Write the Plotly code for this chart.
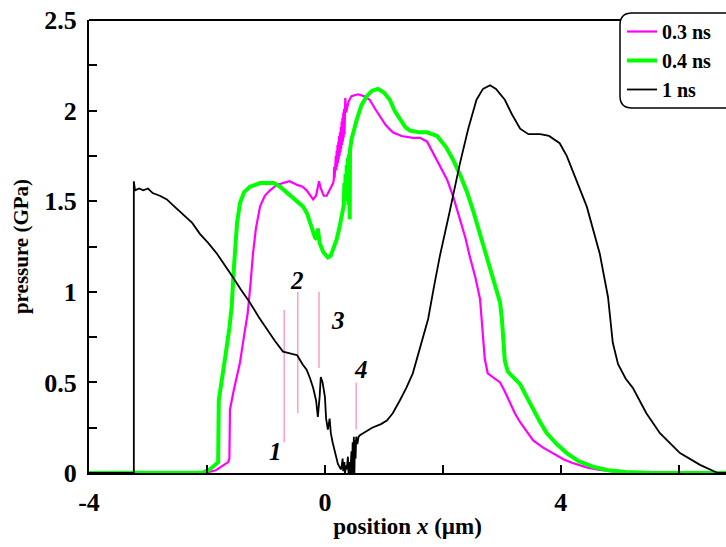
import plotly.graph_objects as go

# ---------------- data ----------------
t03_x = [-4.0, -2.2, -2.0, -1.85, -1.72, -1.64, -1.62, -1.61, -1.55, -1.44, -1.36, -1.31, -1.26, -1.22,
         -1.17, -1.10, -1.02, -0.93, -0.82, -0.71, -0.60, -0.47, -0.38, -0.31, -0.25, -0.20, -0.15,
         -0.12, -0.10, -0.07, -0.02, 0.03, 0.08, 0.14,
         0.150, 0.157, 0.164, 0.171, 0.178, 0.185, 0.192, 0.199, 0.206, 0.213, 0.220, 0.227, 0.234,
         0.241, 0.248, 0.255, 0.262, 0.269, 0.276, 0.283, 0.290, 0.297, 0.304, 0.311, 0.318, 0.325,
         0.332, 0.339, 0.345, 0.36, 0.40, 0.45, 0.56, 0.66, 0.76, 0.85, 0.93, 1.03, 1.15,
         1.30, 1.49, 1.61, 1.73, 1.83, 1.95, 2.07, 2.18, 2.29, 2.38, 2.46, 2.55, 2.63, 2.66, 2.68,
         2.71, 2.76, 2.85, 2.97, 3.05, 3.14, 3.22, 3.31, 3.42, 3.53, 3.70, 3.87, 4.05, 4.20, 4.45,
         4.66, 4.90, 5.10, 5.50, 6.80]
t03_y = [0.0, 0.0, 0.003, 0.015, 0.04, 0.06, 0.08, 0.35, 0.45, 0.61, 0.78, 0.88, 1.05, 1.21,
         1.35, 1.47, 1.53, 1.56, 1.59, 1.60, 1.61, 1.59, 1.58, 1.56, 1.53, 1.51, 1.53,
         1.59, 1.61, 1.57, 1.53, 1.53, 1.56, 1.60,
         1.62, 1.69, 1.63, 1.72, 1.65, 1.75, 1.67, 1.78, 1.69, 1.81, 1.71, 1.83, 1.73,
         1.86, 1.75, 1.88, 1.77, 1.91, 1.79, 1.94, 1.81, 1.96, 1.83, 1.99, 1.85, 2.01,
         1.87, 2.04, 2.07, 1.99, 2.05, 2.08, 2.09, 2.08, 2.06, 2.01, 1.97, 1.92, 1.88,
         1.86, 1.85, 1.85, 1.83, 1.77, 1.70, 1.62, 1.52, 1.40, 1.30, 1.19, 1.08, 0.96, 0.85, 0.75,
         0.63, 0.55, 0.53, 0.50, 0.45, 0.39, 0.33, 0.28, 0.23, 0.18, 0.14, 0.11, 0.075, 0.055, 0.03,
         0.017, 0.007, 0.002, 0.0, 0.0]

t04_x = [-4.0, -2.3, -2.07, -1.95, -1.85, -1.81, -1.80, -1.75, -1.69, -1.62, -1.58, -1.55, -1.53,
         -1.49, -1.44, -1.37, -1.27, -1.10, -0.98, -0.87, -0.76, -0.65, -0.54, -0.45, -0.37, -0.30,
         -0.25, -0.20, -0.17, -0.14, -0.12, -0.09, -0.03, 0.05, 0.10, 0.15, 0.20, 0.25, 0.31,
         0.32, 0.33, 0.34, 0.35, 0.36, 0.37, 0.38, 0.39, 0.40, 0.41, 0.42, 0.425, 0.45, 0.50, 0.54,
         0.62, 0.71, 0.80, 0.90, 1.00, 1.10, 1.18, 1.27, 1.36, 1.44, 1.60, 1.73, 1.90, 2.05, 2.17,
         2.30, 2.41, 2.52, 2.63, 2.72, 2.80, 2.90, 2.97, 3.00, 3.02, 3.05, 3.10, 3.20, 3.31, 3.42,
         3.53, 3.65, 3.76, 3.93, 4.10, 4.30, 4.54, 4.80, 5.10, 5.50, 6.80]
t04_y = [0.0, 0.0, 0.003, 0.02, 0.045, 0.06, 0.40, 0.50, 0.64, 0.80, 0.92, 1.10, 1.21,
         1.38, 1.49, 1.55, 1.58, 1.60, 1.60, 1.60, 1.58, 1.55, 1.52, 1.49, 1.47, 1.43,
         1.37, 1.33, 1.30, 1.29, 1.35, 1.27, 1.22, 1.19, 1.20, 1.24, 1.29, 1.36, 1.45,
         1.48, 1.60, 1.50, 1.65, 1.52, 1.70, 1.55, 1.74, 1.48, 1.76, 1.40, 1.78, 1.84, 1.91, 1.95,
         2.03, 2.08, 2.11, 2.12, 2.10, 2.06, 2.00, 1.95, 1.91, 1.89, 1.88, 1.88, 1.86, 1.80, 1.73,
         1.64, 1.55, 1.44, 1.32, 1.22, 1.12, 1.02, 0.94, 0.85, 0.72, 0.62, 0.56, 0.53, 0.49, 0.42,
         0.35, 0.28, 0.22, 0.16, 0.11, 0.065, 0.035, 0.015, 0.005, 0.001, 0.0]

t1_x = [-4.0, -3.24, -3.24, -3.22, -3.15, -3.08, -3.00, -2.92, -2.80, -2.68, -2.55, -2.41, -2.25,
        -2.12, -1.98, -1.83, -1.70, -1.56, -1.42, -1.27, -1.12, -0.98, -0.85, -0.71, -0.60, -0.47,
        -0.38, -0.31, -0.25, -0.20, -0.15, -0.12, -0.09, -0.07, -0.04, 0.00, 0.02, 0.05, 0.08,
        0.10, 0.13, 0.17, 0.22, 0.27,
        0.28, 0.30, 0.31, 0.33, 0.34, 0.36, 0.37, 0.39, 0.40, 0.42, 0.43, 0.45, 0.46, 0.47, 0.48,
        0.49, 0.50, 0.51, 0.52, 0.53, 0.55, 0.57, 0.60, 0.80, 0.95, 1.05, 1.15, 1.27, 1.38, 1.49,
        1.62, 1.75, 1.85, 1.95, 2.12, 2.29, 2.43, 2.57, 2.68, 2.80, 2.90, 3.05, 3.17, 3.31, 3.45,
        3.65, 3.80, 3.98, 4.10, 4.20, 4.44, 4.66, 4.80, 4.88, 4.97, 5.10, 5.22, 5.45, 5.68, 6.02,
        6.36, 6.66, 6.80]
t1_y = [0.0, 0.0, 1.61, 1.56, 1.57, 1.56, 1.57, 1.545, 1.53, 1.51, 1.47, 1.43, 1.38,
        1.32, 1.27, 1.21, 1.15, 1.08, 1.01, 0.94, 0.86, 0.79, 0.73, 0.67, 0.66, 0.65,
        0.60, 0.57, 0.52, 0.47, 0.40, 0.31, 0.42, 0.53, 0.50, 0.42, 0.30, 0.24, 0.30,
        0.22, 0.17, 0.11, 0.05, 0.02,
        0.03, 0.08, 0.01, 0.06, 0.0, 0.04, 0.02, 0.09, 0.0, 0.06, 0.0, 0.12, 0.0, 0.17, 0.0,
        0.20, 0.0, 0.18, 0.08, 0.20, 0.16, 0.20, 0.21, 0.25, 0.27, 0.29, 0.33, 0.40, 0.47, 0.55,
        0.70, 0.85, 1.03, 1.20, 1.45, 1.71, 1.90, 2.06, 2.12, 2.14, 2.12, 2.06, 1.98, 1.90, 1.87,
        1.87, 1.86, 1.82, 1.75, 1.67, 1.47, 1.21, 0.97, 0.72, 0.60, 0.52, 0.47, 0.33, 0.22, 0.11,
        0.045, 0.0, 0.0]

series_names = ["0.3 ns", "0.4 ns", "1 ns"]
series_colors = ["#ff00ff", "#00ff00", "#000000"]
series_widths = [2.2, 4.0, 1.8]

x_tick_vals = [-4, -2, 0, 2, 4, 6]
x_tick_text = ["-4", "", "0", "", "4", ""]
y_tick_vals = [0, 0.25, 0.5, 0.75, 1, 1.25, 1.5, 1.75, 2, 2.25, 2.5]
y_tick_text = ["0", "", "0.5", "", "1", "", "1.5", "", "2", "", "2.5"]

marker_x = [-0.69, -0.46, -0.10, 0.53]
marker_y0 = [0.17, 0.33, 0.58, 0.24]
marker_y1 = [0.90, 1.00, 1.00, 0.50]
marker_labels = ["1", "2", "3", "4"]
label_x = [-0.84, -0.47, 0.23, 0.62]
label_y = [0.12, 1.06, 0.84, 0.57]

# ---------------- figure ----------------
W, H = 726, 547
L, R, T, B = 89, 0, 20, 74
FONT = "Liberation Serif, Times New Roman, serif"

def px_to_paper(px, py):
    return (px - L) / (W - L - R), (H - B - py) / (H - B - T)

fig = go.Figure()
for xs, ys, n, c, w in zip([t03_x, t04_x, t1_x], [t03_y, t04_y, t1_y],
                           series_names, series_colors, series_widths):
    fig.add_trace(go.Scatter(x=xs, y=ys, mode="lines", name=n,
                             line=dict(color=c, width=w)))

shapes = []
for mx, a, b in zip(marker_x, marker_y0, marker_y1):
    shapes.append(dict(type="line", xref="x", yref="y", x0=mx, x1=mx, y0=a, y1=b,
                       line=dict(color="#ff9ec8", width=1.5), layer="below"))
shapes.append(dict(type="line", xref="paper", yref="paper", x0=0, x1=1, y0=1, y1=1,
                   line=dict(color="black", width=2)))
bx0, by0 = px_to_paper(620, 108)
bx1, by1 = px_to_paper(740, 13)
rx = 12 / (W - L - R)
ry = 12 / (H - B - T)
path = (f"M {bx0+rx},{by1} L {bx1},{by1} L {bx1},{by0} L {bx0+rx},{by0} "
        f"Q {bx0},{by0} {bx0},{by0+ry} L {bx0},{by1-ry} Q {bx0},{by1} {bx0+rx},{by1} Z")
shapes.append(dict(type="path", xref="paper", yref="paper", path=path,
                   line=dict(color="black", width=1.5), fillcolor="white"))

annotations = []
for lx, ly, t in zip(label_x, label_y, marker_labels):
    annotations.append(dict(x=lx, y=ly, xref="x", yref="y", text=f"<i>{t}</i>",
                            showarrow=False,
                            font=dict(family=FONT, size=25, color="black", weight="bold")))

lgx, lgy = px_to_paper(622, 12)
fig.update_layout(
    width=W, height=H,
    margin=dict(l=L, r=R, t=T, b=B),
    paper_bgcolor="white", plot_bgcolor="white",
    font=dict(family=FONT, color="black"),
    shapes=shapes, annotations=annotations,
    showlegend=True,
    legend=dict(x=lgx, y=lgy, xanchor="left", yanchor="top",
                bgcolor="rgba(0,0,0,0)", borderwidth=0,
                font=dict(family=FONT, size=20, color="black", weight="bold"),
                itemwidth=30, tracegroupgap=0),
    xaxis=dict(range=[-4, 6.8], tickvals=x_tick_vals, ticktext=x_tick_text,
               ticks="inside", ticklen=8, tickwidth=1.5, tickcolor="black",
               showline=True, linecolor="black", linewidth=2, showgrid=False, zeroline=False,
               tickfont=dict(family=FONT, size=26, color="black", weight="bold"),
               ticklabelstandoff=5,
               title=dict(text="position <i>x</i> (µm)", standoff=2,
                          font=dict(family=FONT, size=23, color="black", weight="bold"))),
    yaxis=dict(range=[0, 2.5], tickvals=y_tick_vals, ticktext=y_tick_text,
               ticks="inside", ticklen=8, tickwidth=1.5, tickcolor="black",
               showline=True, linecolor="black", linewidth=2, showgrid=False, zeroline=False,
               tickfont=dict(family=FONT, size=26, color="black", weight="bold"),
               ticklabelstandoff=5,
               title=dict(text="pressure (GPa)", standoff=10,
                          font=dict(family=FONT, size=21, color="black", weight="bold"))),
)

fig.write_html("out.html")
